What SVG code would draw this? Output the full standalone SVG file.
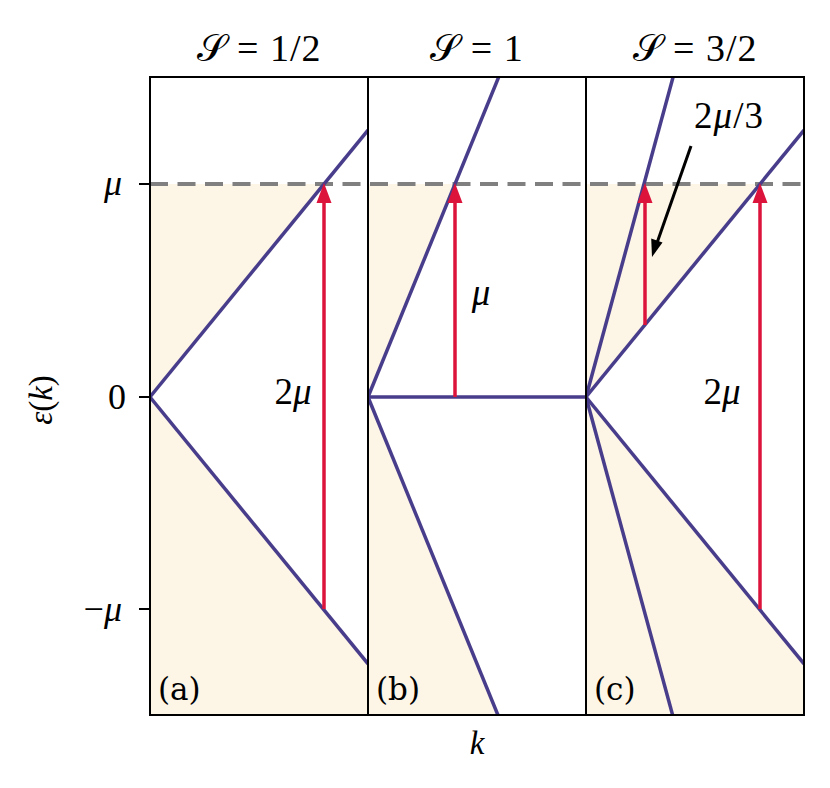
<svg xmlns="http://www.w3.org/2000/svg" width="830" height="788" viewBox="0 0 830 788">
<style>
.fill{fill:#FDF5E6;stroke:none}
.band{stroke:#483D8B;stroke-width:3.5;fill:none;stroke-linecap:butt}
.red{stroke:#DC143C;stroke-width:3.5;fill:none}
.redhead{fill:#DC143C}
.frame{fill:none;stroke:#000;stroke-width:2}
.dash{stroke:#808080;stroke-width:4;stroke-dasharray:18 9.5}
.t{font-family:"Liberation Serif","DejaVu Serif",serif;fill:#000}
.m{font-family:"Liberation Serif","DejaVu Serif",serif;font-style:italic;fill:#000}
.p{font-family:"DejaVu Serif","Liberation Serif",serif;fill:#000}
.tick{stroke:#000;stroke-width:2}
</style>
<defs>
<clipPath id="cpa"><rect x="150" y="77" width="218" height="638"/></clipPath>
<clipPath id="cpb"><rect x="368" y="77" width="218" height="638"/></clipPath>
<clipPath id="cpc"><rect x="586" y="77" width="218" height="638"/></clipPath>
</defs>
<rect width="830" height="788" fill="#fff"/>
<g id="panel-a">
<polygon class="fill" points="150,184 324,184 150,397"/>
<polygon class="fill" points="150,397 368,663.8 368,715 150,715"/>
</g>
<g id="panel-b">
<polygon class="fill" points="368,184 455,184 368,397"/>
<polygon class="fill" points="368,397 497.9,715 368,715"/>
</g>
<g id="panel-c">
<polygon class="fill" points="586,184 760,184 586,397"/>
<polygon class="fill" points="586,397 804,663.8 804,715 586,715"/>
</g>
<line class="dash" x1="150" y1="184" x2="804" y2="184"/>
<g id="connectors">
<g clip-path="url(#cpa)">
<line class="band" x1="150" y1="397" x2="368" y2="130.2"/>
<line class="band" x1="150" y1="397" x2="368" y2="663.8"/>
</g>
<g clip-path="url(#cpb)">
<line class="band" x1="368" y1="397" x2="498.7" y2="77"/>
<line class="band" x1="368" y1="397" x2="586" y2="397"/>
<line class="band" x1="368" y1="397" x2="497.9" y2="715"/>
</g>
<g clip-path="url(#cpc)">
<line class="band" x1="586" y1="397" x2="673.1" y2="77"/>
<line class="band" x1="586" y1="397" x2="804" y2="130.2"/>
<line class="band" x1="586" y1="397" x2="804" y2="663.8"/>
<line class="band" x1="586" y1="397" x2="672.6" y2="715"/>
</g>
<line class="red" x1="324" y1="609" x2="324" y2="200"/>
<polygon class="redhead" points="324,183 316.5,203 331.5,203"/>
<line class="red" x1="455" y1="397" x2="455" y2="200"/>
<polygon class="redhead" points="455,183 447.5,203 462.5,203"/>
<line class="red" x1="645" y1="325" x2="645" y2="200"/>
<polygon class="redhead" points="645,183 637.5,203 652.5,203"/>
<line class="red" x1="760" y1="609" x2="760" y2="200"/>
<polygon class="redhead" points="760,183 752.5,203 767.5,203"/>
<line x1="691" y1="146" x2="657.5" y2="241.5" stroke="#000" stroke-width="3"/>
<polygon points="652,257 651.2,238.5 662.5,242.5" fill="#000"/>
</g>
<rect class="frame" x="150" y="77" width="218" height="638"/>
<rect class="frame" x="368" y="77" width="218" height="638"/>
<rect class="frame" x="586" y="77" width="218" height="638"/>
<line class="tick" x1="139" y1="184" x2="150" y2="184"/>
<line class="tick" x1="139" y1="397" x2="150" y2="397"/>
<line class="tick" x1="139" y1="609" x2="150" y2="609"/>
<text class="m" x="122" y="195" font-size="36" text-anchor="end">μ</text>
<text class="t" x="126" y="409" font-size="36" text-anchor="end">0</text>
<text class="m" x="122" y="621" font-size="36" text-anchor="end"><tspan font-style="normal">−</tspan>μ</text>
<text class="m" transform="translate(52,400) rotate(-90)" font-size="33" text-anchor="middle">ε<tspan font-style="normal">(</tspan>k<tspan font-style="normal">)</tspan></text>
<text class="m" x="477" y="754" font-size="33" text-anchor="middle">k</text>
<text class="t" x="259" y="61" font-size="38" text-anchor="middle" letter-spacing="1">𝒮 = 1/2</text>
<text class="t" x="477" y="61" font-size="38" text-anchor="middle" letter-spacing="1">𝒮 = 1</text>
<text class="t" x="695" y="61" font-size="38" text-anchor="middle" letter-spacing="1">𝒮 = 3/2</text>
<text class="p" x="158" y="700" font-size="31">(a)</text>
<text class="p" x="376" y="700" font-size="31">(b)</text>
<text class="p" x="594" y="700" font-size="31">(c)</text>
<text class="t" x="293" y="404" font-size="37" text-anchor="middle">2<tspan font-style="italic">μ</tspan></text>
<text class="m" x="481" y="305" font-size="37" text-anchor="middle">μ</text>
<text class="t" x="722" y="404" font-size="37" text-anchor="middle">2<tspan font-style="italic">μ</tspan></text>
<text class="t" x="729" y="128" font-size="37" text-anchor="middle" letter-spacing="1">2<tspan font-style="italic">μ</tspan>/3</text>
</svg>
